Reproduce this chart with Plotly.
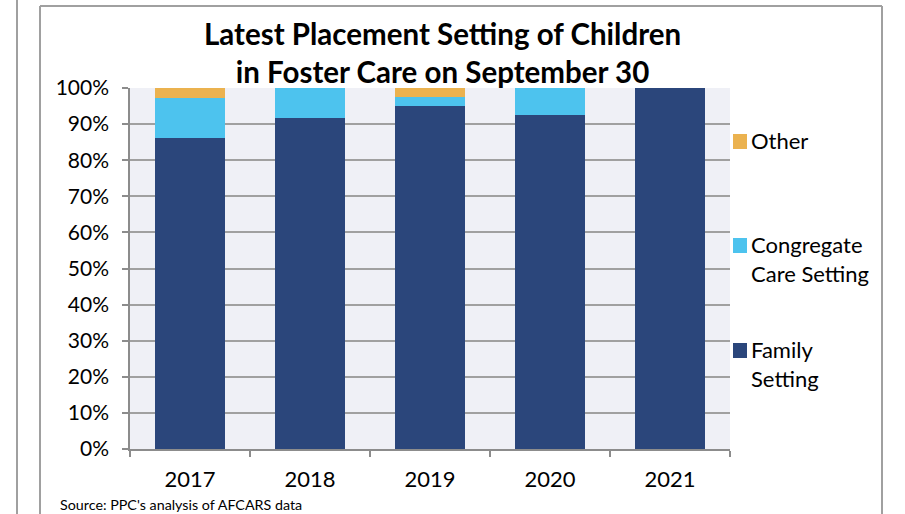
import plotly.graph_objects as go

years = ["2017", "2018", "2019", "2020", "2021"]
family = [86.1, 91.6, 95.1, 92.5, 100.0]
congregate = [11.1, 8.4, 2.5, 7.5, 0.0]
other = [2.8, 0.0, 2.4, 0.0, 0.0]
series_names = ["Family<br>Setting", "Congregate<br>Care Setting", "Other"]
colors = ["#2B467B", "#4DC3EE", "#EBB24F"]
title_text = "Latest Placement Setting of Children<br>in Foster Care on September 30"
source_text = "Source: PPC's analysis of AFCARS data"

W, H = 905, 514
L, R, T, B = 130, 175, 88, 65
PW, PH = W - L - R, H - T - B

def px(x):
    return (x - L) / PW

def py(y):
    return (H - B - y) / PH

FONT = "Lato"
fig = go.Figure()
for vals, name, col in zip([family, congregate, other], series_names, colors):
    fig.add_trace(go.Bar(x=years, y=vals, name=name, marker=dict(color=col, line=dict(width=0)),
                         showlegend=False))

fig.update_layout(
    width=W, height=H,
    margin=dict(l=L, r=R, t=T, b=B),
    barmode="stack", bargap=0.417,
    paper_bgcolor="white", plot_bgcolor="#EFF0F6",
    font=dict(family=FONT, color="black"),
    xaxis=dict(type="category", tickson="boundaries", ticks="outside", ticklen=6, tickcolor="#8C8C8C",
               tickwidth=1.5, showline=True, linecolor="#8C8C8C", linewidth=1.5, showgrid=False,
               tickfont=dict(size=22, family=FONT), range=[-0.5, 4.5], ticklabelstandoff=10),
    yaxis=dict(range=[0, 100], dtick=10, ticksuffix="%", ticks="outside", ticklen=6, tickcolor="#8C8C8C",
               tickwidth=1.5, showline=True, linecolor="#8C8C8C", linewidth=1.5, showgrid=True,
               gridcolor="#A0A0A0", gridwidth=2, zeroline=False, tickfont=dict(size=21, family=FONT),
               ticklabelstandoff=9),
)

# title
fig.add_annotation(text="<b>" + title_text + "</b>", xref="paper", yref="paper", x=px(442), y=py(52),
                   xanchor="center", yanchor="middle", showarrow=False, font=dict(size=29.5, family=FONT))
# source
fig.add_annotation(text=source_text, xref="paper", yref="paper", x=px(58), y=py(504),
                   xanchor="left", yanchor="middle", showarrow=False, font=dict(size=14.3, family=FONT))

# legend (custom)
legend_rows = [(2, 141), (1, 245), (0, 350)]
for idx, ytop in legend_rows:
    fig.add_shape(type="rect", xref="paper", yref="paper", x0=px(733), x1=px(747), y0=py(ytop - 7), y1=py(ytop + 8),
                  fillcolor=colors[idx], line=dict(width=0))
    fig.add_annotation(text=series_names[idx], xref="paper", yref="paper", x=px(749), y=py(ytop - 16),
                       xanchor="left", yanchor="top", align="left", showarrow=False,
                       font=dict(size=22, family=FONT))

# frames
fig.add_shape(type="line", xref="paper", yref="paper", x0=px(40), x1=px(40), y0=py(6), y1=py(520),
              line=dict(color="#A0A0A0", width=2))
fig.add_shape(type="line", xref="paper", yref="paper", x0=px(40), x1=px(882), y0=py(6), y1=py(6),
              line=dict(color="#A0A0A0", width=2))
fig.add_shape(type="line", xref="paper", yref="paper", x0=px(882), x1=px(882), y0=py(6), y1=py(520),
              line=dict(color="#A0A0A0", width=2))
fig.add_shape(type="line", xref="paper", yref="paper", x0=px(17), x1=px(17), y0=py(-5), y1=py(520),
              line=dict(color="#A0A0A0", width=2))

fig.write_html("out.html", config={"displayModeBar": False},
               post_script="document.body.style.margin='0';document.body.style.overflow='hidden';")
